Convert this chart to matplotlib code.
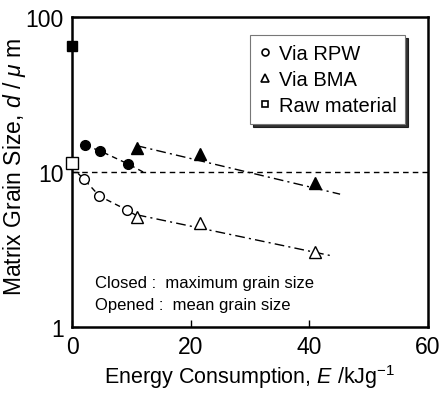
import numpy as np
import matplotlib.pyplot as plt
from matplotlib.ticker import FixedLocator, NullLocator

plt.rcParams['font.family'] = ['Liberation Sans', 'DejaVu Sans']
plt.rcParams['mathtext.fontset'] = 'custom'
plt.rcParams['mathtext.it'] = 'Liberation Sans:italic'
plt.rcParams['mathtext.rm'] = 'Liberation Sans'

# --- data ---
rpw_E = [2.2, 4.7, 9.4]
rpw_max = [14.9, 13.7, 11.3]
rpw_E_mean = [2.0, 4.6, 9.2]
rpw_mean = [9.0, 7.0, 5.7]

bma_E = [10.9, 21.6, 40.9]
bma_max = [14.4, 13.1, 8.45]
bma_mean = [5.1, 4.67, 3.03]

raw_E = [0]
raw_max = [65]
raw_mean = [11.5]

# trend lines (end points)
rpw_max_line_E = [2.2, 4.7, 9.4, 12.0]
rpw_max_line_d = [14.9, 13.7, 11.3, 10.0]
rpw_mean_line_E = [1.0, 2.0, 4.6, 9.2, 11.0]
rpw_mean_line_d = [9.8, 9.0, 7.0, 5.7, 5.2]
bma_max_line_E = [10.9, 45.2]
bma_max_line_d = [14.8, 7.2]
bma_mean_line_E = [10.9, 43.8]
bma_mean_line_d = [5.3, 2.88]

fig = plt.figure(figsize=(4.48, 4.02), dpi=100)
ax = fig.add_axes([0.161, 0.184, 0.794, 0.771])
ax.set_yscale('log')
ax.set_xlim(0, 60)
ax.set_ylim(1, 100)

ax.axhline(10, color='k', lw=1.0, ls=(0, (4, 3)))
ax.plot(rpw_max_line_E, rpw_max_line_d, color='k', lw=1.0, ls=(0, (4, 3)))
ax.plot(rpw_mean_line_E, rpw_mean_line_d, color='k', lw=1.0, ls=(0, (4, 3)))
ax.plot(bma_max_line_E, bma_max_line_d, color='k', lw=1.0, ls=(0, (7, 3, 1.5, 3)))
ax.plot(bma_mean_line_E, bma_mean_line_d, color='k', lw=1.0, ls=(0, (7, 3, 1.5, 3)))

ax.plot(rpw_E, rpw_max, 'o', ms=7, mfc='k', mec='k', clip_on=False)
ax.plot(rpw_E_mean, rpw_mean, 'o', ms=7, mfc='white', mec='k', mew=1.0, clip_on=False)
ax.plot(bma_E, bma_max, '^', ms=8, mfc='k', mec='k', clip_on=False)
ax.plot(bma_E, bma_mean, '^', ms=8, mfc='white', mec='k', mew=1.0, clip_on=False)
ax.plot(raw_E, raw_max, 's', ms=7, mfc='k', mec='k', clip_on=False, zorder=5)
ax.plot(raw_E, raw_mean, 's', ms=8, mfc='white', mec='k', mew=1.0, clip_on=False, zorder=5)

# legend handles
h1, = ax.plot([], [], 'o', ms=5, mfc='white', mec='k', mew=1.2, label='Via RPW')
h2, = ax.plot([], [], '^', ms=6, mfc='white', mec='k', mew=1.2, label='Via BMA')
h3, = ax.plot([], [], 's', ms=5, mfc='white', mec='k', mew=1.2, label='Raw material')
leg = ax.legend(handles=[h1, h2, h3], loc='upper right', bbox_to_anchor=(0.965, 0.975),
                fontsize=14.5, frameon=True, fancybox=False, shadow={'color': 'k', 'alpha': 0.8},
                handlelength=0.6, handletextpad=0.35, borderpad=0.45, labelspacing=0.35)
leg.get_frame().set_edgecolor('#777777')
leg.get_frame().set_linewidth(0.8)

ax.text(0.065, 0.128, 'Closed :  maximum grain size', transform=ax.transAxes, fontsize=12)
ax.text(0.065, 0.058, 'Opened :  mean grain size', transform=ax.transAxes, fontsize=12)

for s in ax.spines.values():
    s.set_linewidth(1.8)

ax.xaxis.set_major_locator(FixedLocator([0, 20, 40, 60]))
ax.yaxis.set_major_locator(FixedLocator([1, 10, 100]))
ax.yaxis.set_minor_locator(NullLocator())
ax.set_yticklabels(['1', '10', '100'])
ax.tick_params(direction='in', length=5, width=1.0, labelsize=16.5, pad=6)

ax.set_xlabel('Energy Consumption, $E$ /kJg$^{\\mathrm{-1}}$', fontsize=15.5, labelpad=3)
ax.set_ylabel('Matrix Grain Size, $d$ / $\\mu$ m', fontsize=16.5)
ax.yaxis.set_label_coords(-0.125, 0.52)

fig.savefig('out.png', dpi=100)
